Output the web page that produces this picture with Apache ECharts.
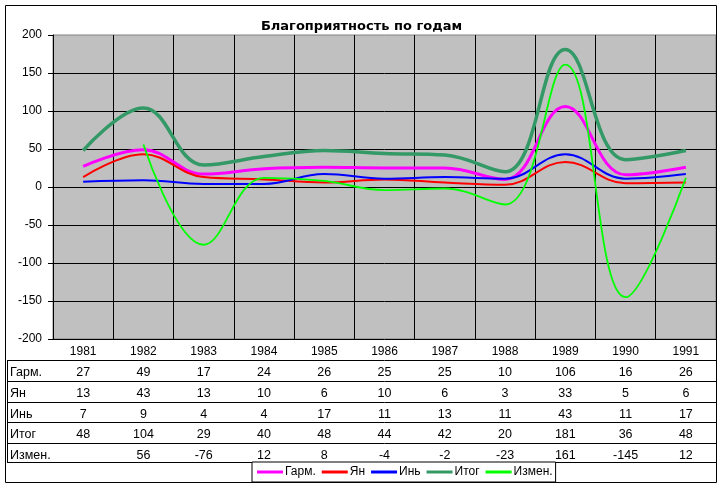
<!DOCTYPE html>
<html><head><meta charset="utf-8">
<script src="https://cdn.jsdelivr.net/npm/echarts@6/dist/echarts.min.js"></script>
<style>html,body{margin:0;padding:0;background:#fff}#c{width:723px;height:488px}</style>
</head><body><div id="c"></div>
<script>
const years = ['1981','1982','1983','1984','1985','1986','1987','1988','1989','1990','1991'];
const garm  = [27, 49, 17, 24, 26, 25, 25, 10, 106, 16, 26];
const yan   = [13, 43, 13, 10, 6, 10, 6, 3, 33, 5, 6];
const yin   = [7, 9, 4, 4, 17, 11, 13, 11, 43, 11, 17];
const itog  = [48, 104, 29, 40, 48, 44, 42, 20, 181, 36, 48];
const izmen = [null, 56, -76, 12, 8, -4, -2, -23, 161, -145, 12];
const seriesNames = ['Гарм.', 'Ян', 'Инь', 'Итог', 'Измен.'];
const seriesData = [garm, yan, yin, itog, izmen];
const yMin = -200, yMax = 200, yStep = 50;
const titleText = 'Благоприятность по годам';

const colors = ['#FF00FF', '#FF0000', '#0000FF', '#339966', '#00FF00'];
const widths = [3, 2, 2, 3.5, 1.8];
const FONT = '"Liberation Sans", Arial, sans-serif';
const gridLeft = 53, gridTop = 35, gridRight = 7, gridBottom = 149;
const plotBottom = 488 - gridBottom;
const rowOffsets = [21, 42, 63, 83, 104, 123];

const chart = echarts.init(document.getElementById('c'), null, {renderer: 'canvas'});

const xAxes = [{
  type: 'category', data: years, gridIndex: 0, position: 'bottom', boundaryGap: true,
  axisLine: {show: true, lineStyle: {color: '#000', width: 1}},
  axisTick: {show: true, length: rowOffsets[5], lineStyle: {color: '#000', width: 1}},
  axisLabel: {show: true, interval: 0, margin: 7, color: '#000', fontSize: 12, fontFamily: FONT},
  splitLine: {show: true, lineStyle: {color: '#000', width: 1}}
}];
seriesData.forEach((arr, i) => {
  xAxes.push({
    type: 'category', data: years, gridIndex: 0, position: 'bottom', offset: rowOffsets[i],
    name: seriesNames[i], nameLocation: 'start', nameGap: 43,
    nameTextStyle: {align: 'left', verticalAlign: 'top', padding: [6, 0, 0, 0], color: '#000', fontSize: 12.5, fontFamily: FONT},
    axisLine: {show: true, lineStyle: {color: '#000', width: 1}},
    axisTick: {show: false},
    splitLine: {show: false},
    axisLabel: {show: true, interval: 0, margin: 6, color: '#000', fontSize: 12.5, fontFamily: FONT,
      formatter: (v, idx) => (arr[idx] === null ? '' : String(arr[idx]))}
  });
});
xAxes.push({
  type: 'category', data: years, gridIndex: 0, position: 'bottom', offset: rowOffsets[5],
  axisLine: {show: true, lineStyle: {color: '#000', width: 1}},
  axisTick: {show: false}, axisLabel: {show: false}, splitLine: {show: false}
});

const graphics = [
  {type: 'rect', shape: {x: 5.5, y: 5.5, width: 711, height: 477}, style: {fill: 'none', stroke: '#000', lineWidth: 1}, z: 100},
  {type: 'line', shape: {x1: 7.5, y1: plotBottom + rowOffsets[0], x2: 7.5, y2: plotBottom + rowOffsets[5]}, style: {stroke: '#000', lineWidth: 1}}
];
rowOffsets.forEach(o => {
  graphics.push({type: 'line', shape: {x1: 7, y1: plotBottom + o + 0.5, x2: gridLeft, y2: plotBottom + o + 0.5}, style: {stroke: '#000', lineWidth: 1}});
});

chart.setOption({
  animation: false,
  backgroundColor: '#fff',
  title: {
    text: titleText, left: 'center', top: 20, padding: 0,
    textStyle: {fontSize: 13, fontWeight: 'bold', color: '#000', fontFamily: '"DejaVu Sans", sans-serif'}
  },
  grid: {left: gridLeft, right: gridRight, top: gridTop, bottom: gridBottom, show: true,
    backgroundColor: '#C0C0C0', borderColor: '#808080', borderWidth: 1, containLabel: false},
  legend: {
    data: seriesNames, left: 252, top: 462, orient: 'horizontal',
    icon: 'rect', itemWidth: 26, itemHeight: 3, itemGap: 6,
    padding: [4, 3, 4, 5], borderColor: '#000', borderWidth: 1, backgroundColor: '#fff',
    textStyle: {fontSize: 12, color: '#000', fontFamily: FONT, padding: [0, 0, 0, -3]}
  },
  xAxis: xAxes,
  yAxis: {
    type: 'value', min: yMin, max: yMax, interval: yStep,
    axisLine: {show: true, lineStyle: {color: '#000', width: 1}},
    axisTick: {show: true, length: 5, lineStyle: {color: '#000'}},
    axisLabel: {margin: 11, color: '#000', fontSize: 12, fontFamily: FONT},
    splitLine: {show: true, showMaxLine: false, lineStyle: {color: '#000', width: 1}}
  },
  series: seriesData.map((arr, i) => ({
    name: seriesNames[i], type: 'line', data: arr, xAxisIndex: 0, yAxisIndex: 0,
    smooth: 0.4, symbol: 'none', connectNulls: false,
    lineStyle: {color: colors[i], width: widths[i]},
    itemStyle: {color: colors[i]}
  })),
  graphic: graphics
});
</script></body></html>
